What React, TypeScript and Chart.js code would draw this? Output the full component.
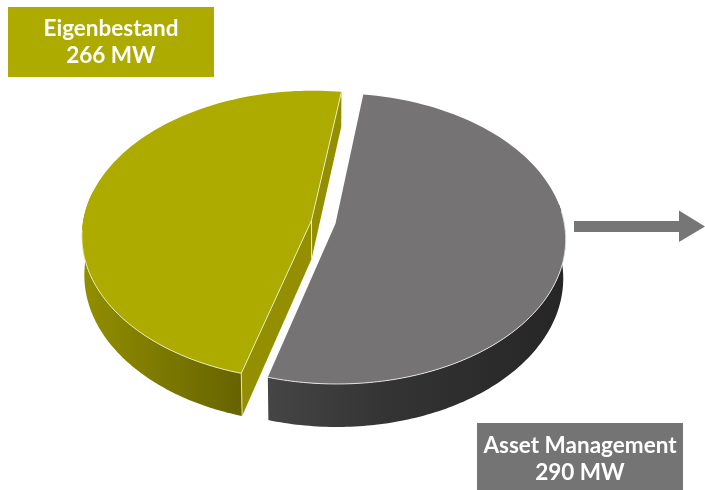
import React, { useEffect, useRef } from "react";
import { Chart, registerables } from "chart.js";

Chart.register(...registerables);

const categories = ["Asset Management", "Eigenbestand"];
const valuesMW = [290, 266];
const unit = "MW";
const sliceColors = ["#767374", "#AEAB00"];
const rotationDeg = 8;

// Perspective of the disc
const VIEW = { cx: 323.5, cy: 222, a: 228.5, b: 120.5, k: 0.1034, depth: 38.5, under: 0.99 };
const project = (u: number, v: number) => {
  const w = 1 - VIEW.k * v;
  const x = VIEW.cx + (VIEW.a * u) / w;
  return { x, y: (VIEW.cy + VIEW.b * v) / w, d: VIEW.depth / w, xb: VIEW.cx + (x - VIEW.cx) * VIEW.under };
};

const rad = (deg: number) => (deg * Math.PI) / 180;

const pie3d = {
  id: "pie3d",
  beforeDatasetsDraw(chart: any) {
    const ctx: CanvasRenderingContext2D = chart.ctx;
    const arcs = chart.getDatasetMeta(0).data;
    const geo = arcs.map((arc: any) => {
      const mid = (arc.startAngle + arc.endAngle) / 2;
      const off = (arc.options.offset || 0) / 2 / arc.outerRadius;
      const ox = Math.cos(mid) * off;
      const oy = Math.sin(mid) * off;
      const rim = (t: number) => project(Math.cos(t) + ox, Math.sin(t) + oy);
      return { arc, rim, apex: project(ox, oy), s: arc.startAngle, e: arc.endAngle };
    });
    const trace = (rim: any, a: number, b: number, useDepth: boolean, move: boolean) => {
      const n = 120;
      for (let i = 0; i <= n; i++) {
        const p = rim(a + ((b - a) * i) / n);
        const x = useDepth ? p.xb : p.x;
        const y = useDepth ? p.y + p.d : p.y;
        if (i === 0 && move) ctx.moveTo(x, y);
        else ctx.lineTo(x, y);
      }
    };
    const wall = (g: any, a: number, b: number, fill: any) => {
      ctx.beginPath();
      trace(g.rim, a, b, false, true);
      trace(g.rim, b, a, true, false);
      ctx.closePath();
      ctx.fillStyle = fill;
      ctx.fill();
    };
    const quad = (p: any, q: any, fill: string) => {
      ctx.beginPath();
      ctx.moveTo(p.x, p.y);
      ctx.lineTo(q.x, q.y);
      ctx.lineTo(q.xb, q.y + q.d);
      ctx.lineTo(p.xb, p.y + p.d);
      ctx.closePath();
      ctx.fillStyle = fill;
      ctx.fill();
    };
    const top = (g: any) => {
      ctx.beginPath();
      ctx.moveTo(g.apex.x, g.apex.y);
      trace(g.rim, g.s, g.e, false, false);
      ctx.closePath();
      ctx.fillStyle = g.arc.options.backgroundColor;
      ctx.fill();
    };
    const edge = "rgba(238,238,205,0.9)";
    ctx.save();

    // second slice: Eigenbestand
    const o = geo[1];
    const oTip = o.rim(o.s);
    const oBack = o.rim(o.e);
    quad(oBack, o.apex, "#938F00");
    quad(o.apex, oTip, "#938F00");
    const og = ctx.createLinearGradient(83, 0, 243, 0);
    og.addColorStop(0, "#918E00");
    og.addColorStop(1, "#666300");
    wall(o, o.s, Math.min(o.e, rad(192)), og);
    top(o);
    ctx.strokeStyle = edge;
    ctx.lineWidth = 1;
    ctx.beginPath();
    trace(o.rim, rad(176), o.s, false, true);
    ctx.lineTo(o.apex.x, o.apex.y);
    ctx.lineTo(oBack.x, oBack.y);
    ctx.moveTo(o.apex.x, o.apex.y);
    ctx.lineTo(o.apex.xb, o.apex.y + o.apex.d);
    ctx.moveTo(oTip.x, oTip.y);
    ctx.lineTo(oTip.xb, oTip.y + oTip.d);
    ctx.stroke();

    // first slice: Asset Management
    const g0 = geo[0];
    const gg = ctx.createLinearGradient(268, 0, 560, 0);
    gg.addColorStop(0, "#454545");
    gg.addColorStop(0.4, "#343434");
    gg.addColorStop(1, "#262626");
    wall(g0, rad(-8), g0.e, gg);
    top(g0);
    ctx.strokeStyle = "rgba(235,235,235,0.9)";
    ctx.beginPath();
    trace(g0.rim, g0.e, rad(-5), false, true);
    ctx.stroke();

    ctx.restore();
    return false;
  },
  afterDraw(chart: any) {
    const ctx: CanvasRenderingContext2D = chart.ctx;
    ctx.save();

    // boxes with labels
    const box = (x: number, y: number, w: number, h: number, fill: string, name: string, value: number, y1: number, y2: number) => {
      ctx.fillStyle = fill;
      ctx.fillRect(x, y, w, h);
      ctx.fillStyle = "#FFFFFF";
      ctx.font = "bold 22.5px Lato, 'Open Sans', sans-serif";
      ctx.textAlign = "center";
      ctx.textBaseline = "middle";
      ctx.fillText(name, x + w / 2, y1);
      ctx.fillText(`${value} ${unit}`, x + w / 2, y2);
    };
    box(8, 7, 206, 70, sliceColors[1], categories[1], valuesMW[1], 29, 56);
    box(477, 423, 206, 67, "#747474", categories[0], valuesMW[0], 446, 473);

    // arrow
    ctx.fillStyle = "#767676";
    ctx.beginPath();
    ctx.moveTo(574, 221);
    ctx.lineTo(679, 221);
    ctx.lineTo(679, 210.5);
    ctx.lineTo(705, 226.5);
    ctx.lineTo(679, 242);
    ctx.lineTo(679, 232);
    ctx.lineTo(574, 232);
    ctx.closePath();
    ctx.fill();
    ctx.restore();
  },
};

export default function App() {
  const ref = useRef<HTMLCanvasElement | null>(null);
  useEffect(() => {
    document.body.style.margin = "0";
    const chart = new Chart(ref.current as HTMLCanvasElement, {
      type: "pie",
      data: {
        labels: categories,
        datasets: [{ data: valuesMW, backgroundColor: sliceColors, borderWidth: 0, offset: 25 }],
      },
      options: {
        responsive: false,
        animation: false,
        rotation: rotationDeg,
        layout: { padding: 0 },
        plugins: { legend: { display: false }, tooltip: { enabled: false } },
      },
      plugins: [pie3d],
    } as any);
    return () => chart.destroy();
  }, []);
  return <canvas ref={ref} width={705} height={490} style={{ display: "block" }} />;
}
